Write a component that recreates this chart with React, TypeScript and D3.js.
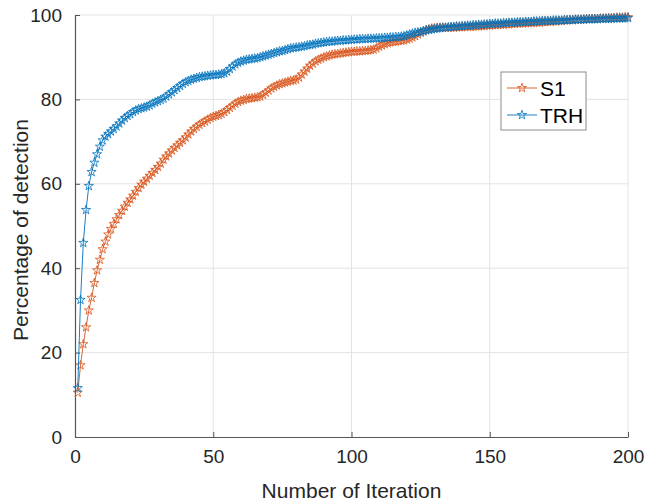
import { useEffect, useRef } from 'react'
import * as d3 from 'd3'

// detection percentage per iteration (1..200)
const s1 = [
  10.5, 17.0, 22.0, 26.0, 30.0, 33.0, 36.5, 39.5, 42.0, 44.5,
  46.3, 48.0, 49.3, 50.5, 51.6, 52.6, 53.6, 54.6, 55.5, 56.3,
  57.2, 58.1, 59.0, 59.8, 60.5, 61.2, 61.9, 62.6, 63.3, 64.0,
  64.8, 65.7, 66.5, 67.2, 67.9, 68.5, 69.1, 69.7, 70.3, 71.0,
  71.7, 72.4, 73.0, 73.5, 74.0, 74.4, 74.8, 75.2, 75.6, 75.9,
  76.1, 76.3, 76.6, 77.0, 77.5, 78.0, 78.5, 79.0, 79.4, 79.7,
  79.9, 80.1, 80.2, 80.3, 80.4, 80.5, 80.7, 81.1, 81.6, 82.1,
  82.6, 83.0, 83.3, 83.6, 83.8, 84.0, 84.2, 84.4, 84.5, 84.7,
  85.2, 85.9, 86.6, 87.3, 88.0, 88.5, 89.0, 89.4, 89.7, 90.0,
  90.2, 90.4, 90.6, 90.7, 90.8, 90.9, 91.0, 91.1, 91.2, 91.3,
  91.3, 91.4, 91.4, 91.5, 91.5, 91.6, 91.7, 91.8, 92.1, 92.5,
  92.8, 93.1, 93.3, 93.5, 93.6, 93.7, 93.8, 93.9, 94.0, 94.2,
  94.4, 94.7, 95.0, 95.4, 95.8, 96.1, 96.4, 96.6, 96.8, 96.9,
  97.0, 97.0, 97.0, 97.0, 97.0, 97.0, 97.0, 97.1, 97.1, 97.1,
  97.2, 97.2, 97.2, 97.3, 97.3, 97.3, 97.4, 97.4, 97.5, 97.5,
  97.6, 97.6, 97.7, 97.7, 97.7, 97.8, 97.8, 97.9, 97.9, 98.0,
  98.0, 98.0, 98.1, 98.1, 98.1, 98.2, 98.2, 98.2, 98.3, 98.3,
  98.4, 98.4, 98.5, 98.5, 98.6, 98.6, 98.7, 98.7, 98.8, 98.8,
  98.9, 98.9, 98.9, 99.0, 99.0, 99.0, 99.1, 99.1, 99.1, 99.2,
  99.2, 99.2, 99.3, 99.3, 99.3, 99.4, 99.4, 99.4, 99.5, 99.5,
]

const trh = [
  11.6, 32.5, 46.0, 53.8, 59.5, 62.8, 65.0, 67.0, 68.8, 70.3,
  71.2, 71.8, 72.4, 73.0, 73.6, 74.3, 75.0, 75.6, 76.1, 76.5,
  77.0, 77.4, 77.7, 77.9, 78.1, 78.3, 78.6, 79.0, 79.3, 79.6,
  79.9, 80.2, 80.7, 81.2, 81.7, 82.2, 82.7, 83.2, 83.7, 84.1,
  84.4, 84.7, 84.9, 85.1, 85.3, 85.4, 85.5, 85.6, 85.7, 85.8,
  85.8, 85.9, 86.0, 86.2, 86.6, 87.2, 87.8, 88.3, 88.7, 89.0,
  89.2, 89.4, 89.5, 89.6, 89.7, 89.8, 90.0, 90.2, 90.4, 90.6,
  90.8, 91.0, 91.2, 91.4, 91.5, 91.7, 91.9, 92.1, 92.2, 92.3,
  92.4, 92.5, 92.6, 92.8, 92.9, 93.0, 93.2, 93.3, 93.4, 93.5,
  93.6, 93.7, 93.7, 93.8, 93.9, 93.9, 94.0, 94.0, 94.1, 94.1,
  94.2, 94.2, 94.3, 94.3, 94.3, 94.4, 94.4, 94.4, 94.5, 94.5,
  94.5, 94.6, 94.6, 94.7, 94.7, 94.8, 94.8, 94.9, 95.0, 95.2,
  95.4, 95.6, 95.8, 95.9, 96.0, 96.2, 96.4, 96.5, 96.6, 96.7,
  96.8, 96.9, 97.0, 97.0, 97.1, 97.2, 97.2, 97.3, 97.3, 97.4,
  97.4, 97.5, 97.5, 97.6, 97.6, 97.7, 97.7, 97.8, 97.8, 97.9,
  97.9, 98.0, 98.0, 98.0, 98.1, 98.1, 98.2, 98.2, 98.2, 98.3,
  98.3, 98.3, 98.4, 98.4, 98.4, 98.5, 98.5, 98.5, 98.6, 98.6,
  98.6, 98.6, 98.7, 98.7, 98.7, 98.7, 98.8, 98.8, 98.8, 98.8,
  98.9, 98.9, 98.9, 98.9, 99.0, 99.0, 99.0, 99.0, 99.0, 99.1,
  99.1, 99.1, 99.1, 99.1, 99.2, 99.2, 99.2, 99.2, 99.2, 99.3,
]

const seriesNames = ['S1', 'TRH']
const seriesColors = ['#D95319', '#0072BD']
const xTicks = [0, 50, 100, 150, 200]
const yTicks = [0, 20, 40, 60, 80, 100]

const W = 645
const H = 502
const margin = { left: 75, right: 17, top: 15, bottom: 65 }
const font = 'Arial, "Liberation Sans", sans-serif'

const App = () => {
  const ref = useRef<SVGSVGElement>(null)

  useEffect(() => {
    if (!ref.current) return
    const svg = d3.select(ref.current)
    svg.selectAll('*').remove()

    const x = d3.scaleLinear().domain([0, 200]).range([margin.left, W - margin.right])
    const y = d3.scaleLinear().domain([0, 100]).range([H - margin.bottom, margin.top])

    svg.append('rect').attr('width', W).attr('height', H).attr('fill', '#fff')

    // grid
    const grid = svg.append('g').attr('stroke', '#e3e3e3').attr('stroke-width', 1)
    xTicks.filter(t => t > 0).forEach(t => {
      grid.append('line')
        .attr('x1', x(t)).attr('x2', x(t))
        .attr('y1', y(0)).attr('y2', y(100))
    })
    yTicks.filter(t => t > 0).forEach(t => {
      grid.append('line')
        .attr('x1', x(0)).attr('x2', x(200))
        .attr('y1', y(t)).attr('y2', y(t))
    })

    // axes (matlab style: ticks point inward)
    const xAxis = svg.append('g')
      .attr('transform', `translate(0,${y(0)})`)
      .call(d3.axisBottom(x).tickValues(xTicks).tickSizeInner(-5).tickSizeOuter(0).tickPadding(13))
    const yAxis = svg.append('g')
      .attr('transform', `translate(${x(0)},0)`)
      .call(d3.axisLeft(y).tickValues(yTicks).tickSizeInner(-5).tickSizeOuter(0).tickPadding(13))
    ;[xAxis, yAxis].forEach(a => {
      a.select('.domain').attr('stroke', '#555').attr('stroke-width', 1.2)
      a.selectAll('.tick line').attr('stroke', '#555')
      a.selectAll('.tick text')
        .attr('fill', '#262626')
        .style('font-family', font)
        .style('font-size', '19px')
    })

    const line = d3.line<number>()
      .x((d, i) => x(i + 1))
      .y(d => y(d))
    const star = d3.symbol().type(d3.symbolStar).size(26)

    ;[s1, trh].forEach((data, k) => {
      const g = svg.append('g')
      g.append('path')
        .attr('d', line(data))
        .attr('fill', 'none')
        .attr('stroke', seriesColors[k])
        .attr('stroke-width', 0.9)
      g.selectAll('path.m')
        .data(data).enter().append('path')
        .attr('class', 'm')
        .attr('d', star())
        .attr('transform', (d, i) => `translate(${x(i + 1)},${y(d)})`)
        .attr('fill', 'none')
        .attr('stroke', seriesColors[k])
        .attr('stroke-width', 0.8)
    })

    // axis titles
    svg.append('text')
      .attr('x', (x(0) + x(200)) / 2)
      .attr('y', 498)
      .attr('text-anchor', 'middle')
      .style('font-family', font)
      .style('font-size', '21px')
      .attr('fill', '#262626')
      .text('Number of Iteration')
    svg.append('text')
      .attr('transform', `translate(28,${(y(0) + y(100)) / 2 + 4}) rotate(-90)`)
      .attr('text-anchor', 'middle')
      .style('font-family', font)
      .style('font-size', '21px')
      .attr('fill', '#262626')
      .text('Percentage of detection')

    // legend
    const lg = svg.append('g').attr('transform', 'translate(501,72)')
    lg.append('rect')
      .attr('width', 85).attr('height', 58)
      .attr('fill', '#fff').attr('stroke', '#8c8c8c').attr('stroke-width', 1)
    seriesNames.forEach((name, k) => {
      const ly = 16 + k * 27
      lg.append('line')
        .attr('x1', 6).attr('x2', 36).attr('y1', ly).attr('y2', ly)
        .attr('stroke', seriesColors[k]).attr('stroke-width', 0.9)
      lg.append('path')
        .attr('d', star())
        .attr('transform', `translate(21,${ly})`)
        .attr('fill', 'none')
        .attr('stroke', seriesColors[k])
        .attr('stroke-width', 0.8)
      lg.append('text')
        .attr('x', 39).attr('y', ly + 8)
        .style('font-family', font)
        .style('font-size', '21px')
        .attr('fill', '#000')
        .text(name)
    })
  }, [])

  return (
    <div style={{ position: 'absolute', left: 0, top: 0 }}>
      <svg ref={ref} width={W} height={H} style={{ display: 'block' }} />
    </div>
  )
}

export default App
